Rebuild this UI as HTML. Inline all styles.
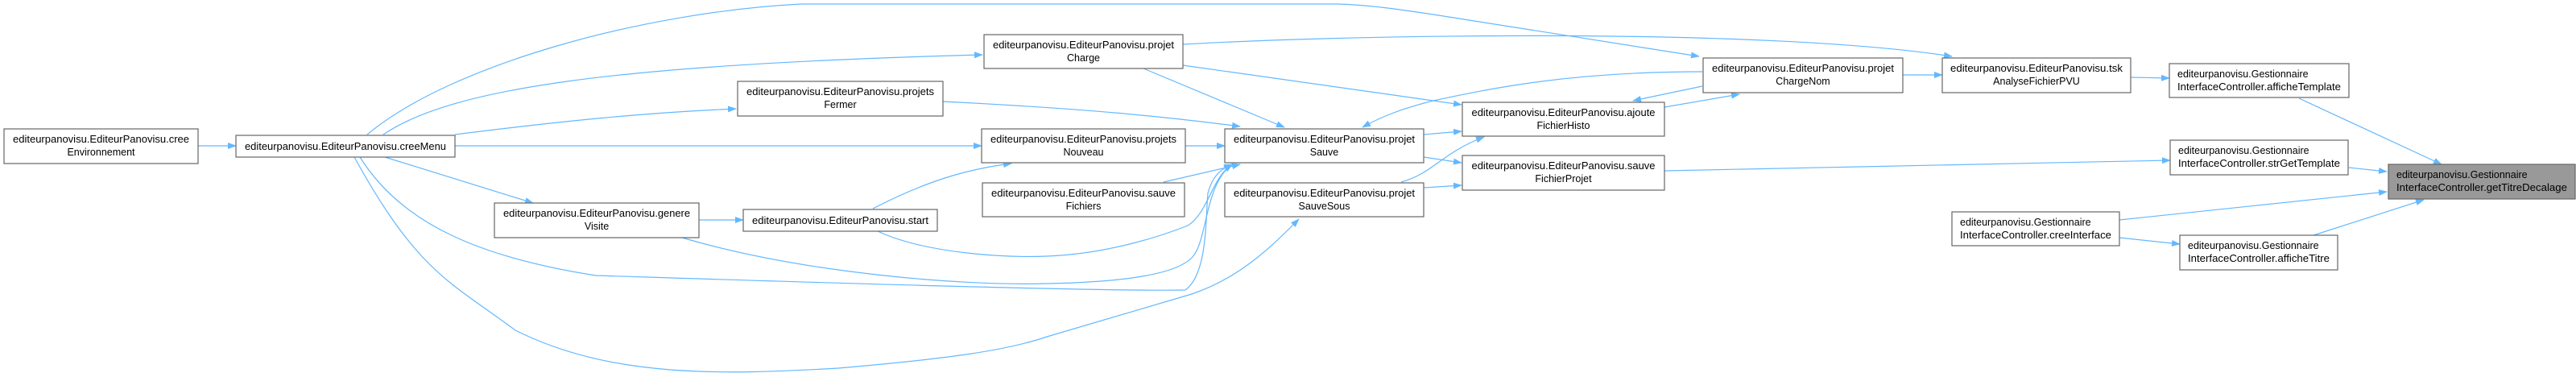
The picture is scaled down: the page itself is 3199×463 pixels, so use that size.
<!DOCTYPE html>
<html><head><meta charset="utf-8">
<style>
html,body{margin:0;padding:0;background:#fff;}
svg{display:block;}
text{font-family:"Liberation Sans",Arial,sans-serif;font-size:12.5px;fill:#000;}
.n{fill:#fff;stroke:#666;stroke-width:1.2;}
.e{fill:none;stroke:#63b8ff;stroke-width:1.2;marker-end:url(#a);}
</style></head><body>
<svg width="3199" height="463" viewBox="0 0 3199 463" xmlns="http://www.w3.org/2000/svg">
<defs><marker id="a" markerUnits="userSpaceOnUse" markerWidth="11" markerHeight="8" refX="10" refY="4" orient="auto"><path d="M0,0 L11,4 L0,8 z" fill="#63b8ff"/></marker></defs>

<g>
<path class="e" d="M246,181 L293,181"/>
<path class="e" d="M478,195 L662,252"/>
<path class="e" d="M476,167 C560,110 760,80 1220,68"/>
<path class="e" d="M565,167 C700,150 800,140 914,135"/>
<path class="e" d="M565,181 L1219,181"/>
<path class="e" d="M447,195 C500,280 600,320 740,342 C900,347 1350,362 1472,360 C1500,340 1497,270 1500,240 C1505,220 1515,210 1530,204"/>
<path class="e" d="M440,195 C520,340 560,350 640,410 C760,470 900,465 1041,457 C1180,445 1250,435 1300,418 L1480,365 C1540,345 1580,305 1613,272"/>
<path class="e" d="M868,273 L923,273"/>
<path class="e" d="M847,295 C1000,340 1200,355 1300,352 C1400,350 1460,340 1480,320 C1500,300 1495,230 1530,204"/>
<path class="e" d="M1084,259 C1150,225 1200,210 1256,203"/>
<path class="e" d="M1090,287 C1150,315 1250,320 1300,318 C1380,315 1450,290 1475,280 C1500,265 1505,220 1530,204"/>
<path class="e" d="M1420,85 L1595,158"/>
<path class="e" d="M1469,81 L1815,130"/>
<path class="e" d="M1469,55 C1700,42 2200,35 2424,70"/>
<path class="e" d="M456,167 C560,80 800,15 995,5 L1661,5 C1700,6 1740,12 1780,18 L2110,70"/>
<path class="e" d="M2114,89 C1950,89 1850,110 1780,125 C1740,135 1715,145 1692,158"/>
<path class="e" d="M2114,107 L2028,125"/>
<path class="e" d="M2067,133 L2160,117"/>
<path class="e" d="M1768,167 L1815,163"/>
<path class="e" d="M1768,195 L1815,202"/>
<path class="e" d="M1768,233 L1815,230"/>
<path class="e" d="M1740,226 C1780,215 1790,190 1843,170"/>
<path class="e" d="M1171,126 C1350,135 1450,145 1540,157"/>
<path class="e" d="M1472,181 L1521,181"/>
<path class="e" d="M1445,226 L1540,204"/>
<path class="e" d="M2363,93 L2412,93"/>
<path class="e" d="M2646,96 L2694,97"/>
<path class="e" d="M2855,122 L3032,204"/>
<path class="e" d="M2917,208 L2964,213"/>
<path class="e" d="M2067,212 L2695,199"/>
<path class="e" d="M2632,273 L2964,238"/>
<path class="e" d="M2632,295 L2707,303"/>
<path class="e" d="M2873,292 L3010,248"/>
</g>

<rect class="n" x="5" y="160" width="241" height="43"/>
<text x="125.5" y="177" text-anchor="middle" textLength="219" lengthAdjust="spacingAndGlyphs">editeurpanovisu.EditeurPanovisu.cree</text>
<text x="125.5" y="193" text-anchor="middle">Environnement</text>
<rect class="n" x="293" y="168" width="272" height="27"/>
<text x="429" y="186" text-anchor="middle" textLength="250" lengthAdjust="spacingAndGlyphs">editeurpanovisu.EditeurPanovisu.creeMenu</text>
<rect class="n" x="614" y="252" width="254" height="43"/>
<text x="741" y="269" text-anchor="middle" textLength="232" lengthAdjust="spacingAndGlyphs">editeurpanovisu.EditeurPanovisu.genere</text>
<text x="741" y="285" text-anchor="middle">Visite</text>
<rect class="n" x="1222" y="43" width="247" height="42"/>
<text x="1345.5" y="60" text-anchor="middle" textLength="225" lengthAdjust="spacingAndGlyphs">editeurpanovisu.EditeurPanovisu.projet</text>
<text x="1345.5" y="76" text-anchor="middle">Charge</text>
<rect class="n" x="916" y="101" width="255" height="43"/>
<text x="1043.5" y="118" text-anchor="middle" textLength="233" lengthAdjust="spacingAndGlyphs">editeurpanovisu.EditeurPanovisu.projets</text>
<text x="1043.5" y="134" text-anchor="middle">Fermer</text>
<rect class="n" x="1219" y="160" width="253" height="42"/>
<text x="1345.5" y="177" text-anchor="middle" textLength="231" lengthAdjust="spacingAndGlyphs">editeurpanovisu.EditeurPanovisu.projets</text>
<text x="1345.5" y="193" text-anchor="middle">Nouveau</text>
<rect class="n" x="1220" y="227" width="251" height="42"/>
<text x="1345.5" y="244" text-anchor="middle" textLength="229" lengthAdjust="spacingAndGlyphs">editeurpanovisu.EditeurPanovisu.sauve</text>
<text x="1345.5" y="260" text-anchor="middle">Fichiers</text>
<rect class="n" x="923" y="260" width="241" height="27"/>
<text x="1043.5" y="278" text-anchor="middle" textLength="219" lengthAdjust="spacingAndGlyphs">editeurpanovisu.EditeurPanovisu.start</text>
<rect class="n" x="1521" y="160" width="247" height="42"/>
<text x="1644.5" y="177" text-anchor="middle" textLength="225" lengthAdjust="spacingAndGlyphs">editeurpanovisu.EditeurPanovisu.projet</text>
<text x="1644.5" y="193" text-anchor="middle">Sauve</text>
<rect class="n" x="1521" y="227" width="247" height="42"/>
<text x="1644.5" y="244" text-anchor="middle" textLength="225" lengthAdjust="spacingAndGlyphs">editeurpanovisu.EditeurPanovisu.projet</text>
<text x="1644.5" y="260" text-anchor="middle">SauveSous</text>
<rect class="n" x="1816" y="127" width="251" height="42"/>
<text x="1941.5" y="144" text-anchor="middle" textLength="228" lengthAdjust="spacingAndGlyphs">editeurpanovisu.EditeurPanovisu.ajoute</text>
<text x="1941.5" y="160" text-anchor="middle">FichierHisto</text>
<rect class="n" x="1816" y="193" width="251" height="43"/>
<text x="1941.5" y="210" text-anchor="middle" textLength="228" lengthAdjust="spacingAndGlyphs">editeurpanovisu.EditeurPanovisu.sauve</text>
<text x="1941.5" y="226" text-anchor="middle">FichierProjet</text>
<rect class="n" x="2115" y="72" width="248" height="43"/>
<text x="2239" y="89" text-anchor="middle" textLength="226" lengthAdjust="spacingAndGlyphs">editeurpanovisu.EditeurPanovisu.projet</text>
<text x="2239" y="105" text-anchor="middle">ChargeNom</text>
<rect class="n" x="2412" y="72" width="234" height="43"/>
<text x="2529" y="89" text-anchor="middle" textLength="214" lengthAdjust="spacingAndGlyphs">editeurpanovisu.EditeurPanovisu.tsk</text>
<text x="2529" y="105" text-anchor="middle">AnalyseFichierPVU</text>
<rect class="n" x="2694" y="79" width="223" height="42"/>
<text x="2704" y="96">editeurpanovisu.Gestionnaire</text>
<text x="2704" y="112" textLength="203" lengthAdjust="spacingAndGlyphs">InterfaceController.afficheTemplate</text>
<rect class="n" x="2695" y="174" width="221" height="43"/>
<text x="2705" y="191">editeurpanovisu.Gestionnaire</text>
<text x="2705" y="207" textLength="201" lengthAdjust="spacingAndGlyphs">InterfaceController.strGetTemplate</text>
<rect x="2966" y="204" width="232" height="43" fill="#999" stroke="#666" stroke-width="1.2"/>
<text x="2976" y="221">editeurpanovisu.Gestionnaire</text>
<text x="2976" y="237" textLength="212" lengthAdjust="spacingAndGlyphs">InterfaceController.getTitreDecalage</text>
<rect class="n" x="2424" y="263" width="208" height="42"/>
<text x="2434" y="280">editeurpanovisu.Gestionnaire</text>
<text x="2434" y="296" textLength="188" lengthAdjust="spacingAndGlyphs">InterfaceController.creeInterface</text>
<rect class="n" x="2707" y="292" width="196" height="43"/>
<text x="2717" y="309">editeurpanovisu.Gestionnaire</text>
<text x="2717" y="325" textLength="176" lengthAdjust="spacingAndGlyphs">InterfaceController.afficheTitre</text>
</svg>
</body></html>
